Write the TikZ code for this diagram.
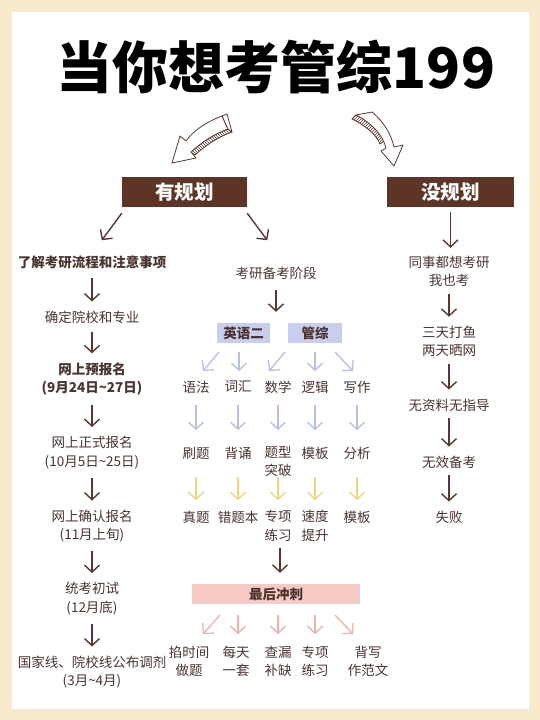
\documentclass[tikz,border=0pt]{standalone}
\usepackage{fontspec}
\setmainfont{Noto Sans CJK SC}
\usetikzlibrary{arrows.meta,calc,patterns}
\definecolor{bgc}{HTML}{F8EACB}
\definecolor{hdrc}{HTML}{5E3426}
\definecolor{txtc}{HTML}{4A3430}
\definecolor{arrc}{HTML}{5A3731}
\definecolor{lavc}{HTML}{C9CEEE}
\definecolor{bluc}{HTML}{B7BFE6}
\definecolor{yelc}{HTML}{EFD47E}
\definecolor{pinkc}{HTML}{F8CAC4}
\definecolor{pinka}{HTML}{EFB3AB}
\tikzset{
  lbl/.style={text=txtc, inner sep=0pt, align=center, font=\fontsize{13.5}{18.5}\selectfont},
  blbl/.style={lbl, font=\bfseries\fontsize{13.5}{18.5}\selectfont},
  hdr/.style={fill=hdrc, text=white, inner sep=0pt, minimum height=30pt, font=\bfseries\fontsize{19.5}{22}\selectfont},
  tagbox/.style={fill=lavc, text=txtc, inner sep=0pt, minimum width=54pt, minimum height=20pt, font=\bfseries\fontsize{13.5}{16}\selectfont},
  pinkbox/.style={fill=pinkc, text=txtc, inner sep=0pt, minimum width=168pt, minimum height=20pt, font=\bfseries\fontsize{13.5}{16}\selectfont},
  arr/.style={draw=arrc, line width=1.4pt, -{Straight Barb[length=7pt,width=15pt]}},
  barr/.style={arr, draw=bluc, line width=1.3pt},
  yarr/.style={arr, draw=yelc, line width=1.3pt},
  parr/.style={arr, draw=pinka, line width=1.3pt},
  lflow/.style={arr, shorten <=9pt, shorten >=9pt},
  rflow/.style={arr, shorten <=7pt, shorten >=9pt},
  sketch/.style={draw=arrc, line width=0.8pt, line join=round},
}
\begin{document}
\begin{tikzpicture}[x=1pt,y=-1pt]
\useasboundingbox (0,0) rectangle (540,720);
\fill[bgc] (0,0) rectangle (540,720);
\fill[white] (12,12) rectangle (529,709);

% title
\node[inner sep=0pt, text=black, font=\bfseries\fontsize{56}{60}\selectfont] (title) at (276,67) {当你想考管综199};

% sketchy arrows
\draw[sketch, pattern=north west lines, pattern color=arrc] (191,152) .. controls (202,142) and (214,134) .. (228,129) -- (232,132) .. controls (218,137) and (206,145) .. (195,155) -- cycle;
\filldraw[sketch, fill=white] (222,116) .. controls (206,122) and (193,131) .. (186,141) -- (180,136) -- (172,163) -- (196,158) -- (191,152) .. controls (202,142) and (214,134) .. (228,129) -- cycle;
\filldraw[sketch, fill=white] (222,116) -- (227,114) -- (232,132) -- (228,129) -- cycle;

\draw[sketch, pattern=north east lines, pattern color=arrc] (356,115) .. controls (373,124) and (382,134) .. (384,141) -- (380,144) .. controls (377,136) and (368,127) .. (352,119) -- cycle;
\filldraw[sketch, fill=white] (356,115) -- (372,112) .. controls (384,122) and (391,134) .. (394,147) -- (403,145) -- (394,166) -- (381,151) -- (386,148) .. controls (383,136) and (373,124) .. (356,115) -- cycle;

% headers
\node[hdr, minimum width=125pt] (plan) at (184.5,192) {有规划};
\node[hdr, minimum width=127pt] (noplan) at (450.5,192) {没规划};

% left column
\node[blbl] (l1) at (92,262) {了解考研流程和注意事项};
\node[lbl] (l2) at (92,317) {确定院校和专业};
\node[blbl] (l3) at (92,379) {网上预报名\\(9月24日\textasciitilde27日)};
\node[lbl] (l4) at (92,452.5) {网上正式报名\\(10月5日\textasciitilde25日)};
\node[lbl] (l5) at (92,526) {网上确认报名\\(11月上旬)};
\node[lbl] (l6) at (92,598.5) {统考初试\\(12月底)};
\node[lbl] (l7) at (92,672) {国家线、院校线公布调剂\\(3月\textasciitilde4月)};
\draw[arr] ($(plan.south west)+(0,6)$) -- ($(plan.south west)+(-20,33)$);
\draw[lflow] (l1) -- (l2);
\draw[lflow] (l2) -- (l3);
\draw[lflow] (l3) -- (l4);
\draw[lflow] (l4) -- (l5);
\draw[lflow] (l5) -- (l6);
\draw[lflow] (l6) -- (l7);

% middle column
\node[lbl] (stage) at (276,273) {考研备考阶段};
\draw[arr] ($(plan.south east)+(0,6)$) -- ($(plan.south east)+(20,33)$);
\node[tagbox, minimum width=53pt] (eng) at (243.5,333) {英语二};
\node[tagbox] (mgmt) at (315,333) {管综};
\draw[arr, shorten <=10.5pt, shorten >=11pt] (stage) -- (stage |- eng.north);

\coordinate (b1s) at (0,352);
\coordinate (b1e) at (0,371);
\coordinate (b2s) at (0,405);
\coordinate (b2e) at (0,430);
\coordinate (y1s) at (0,477);
\coordinate (y1e) at (0,500);
\coordinate (p1s) at (0,615);
\coordinate (p1e) at (0,634);

\node[lbl] (yufa) at (196,387) {语法};
\node[lbl] (cihui) at (238,387) {词汇};
\node[lbl] (shuxue) at (278,387) {数学};
\node[lbl] (luoji) at (315,387) {逻辑};
\node[lbl] (xiezuo) at (357,387) {写作};

\draw[barr] ($(yufa |- b1s)+(23,0)$) -- ($(yufa |- b1e)+(7,0)$);
\draw[barr] ($(cihui |- b1s)+(1,0)$) -- ($(cihui |- b1e)+(1,0)$);
\draw[barr] ($(shuxue |- b1s)+(7,0)$) -- ($(shuxue |- b1e)+(-9,0)$);
\draw[barr] (luoji |- b1s) -- (luoji |- b1e);
\draw[barr] ($(xiezuo |- b1s)+(-22,0)$) -- ($(xiezuo |- b1e)+(-4,0)$);

\node[lbl] (shuati) at (196,453) {刷题};
\node[lbl] (beisong) at (238,453) {背诵};
\node[lbl] (tixing) at (278,461.5) {题型\\突破};
\node[lbl] (muban) at (315,453) {模板};
\node[lbl] (fenxi) at (357,453) {分析};

\foreach \n in {yufa,cihui,shuxue,luoji,xiezuo}
  \draw[barr] (\n |- b2s) -- (\n |- b2e);

\node[lbl] (zhenti) at (196,517) {真题};
\node[lbl] (cuoti) at (238,517) {错题本};
\node[lbl] (zhuanx) at (278,526) {专项\\练习};
\node[lbl] (sudu) at (315,526) {速度\\提升};
\node[lbl] (muban2) at (357,517) {模板};

\foreach \n in {shuati,beisong,tixing,muban,fenxi}
  \draw[yarr] (\n |- y1s) -- (\n |- y1e);

\node[pinkbox] (final) at (276,594) {最后冲刺};
\draw[arr, shorten <=6pt, shorten >=11pt] ($(zhuanx.south)+(2,0)$) -- ($(zhuanx |- final.north)+(2,0)$);

\node[lbl] (qia) at (189,661.5) {掐时间\\做题};
\node[lbl] (meitian) at (236,661.5) {每天\\一套};
\node[lbl] (chalou) at (278,661.5) {查漏\\补缺};
\node[lbl] (zhuanx2) at (315,661.5) {专项\\练习};
\node[lbl] (beixie) at (368,661.5) {背写\\作范文};

\draw[parr] ($(qia |- p1s)+(31,0)$) -- ($(qia |- p1e)+(14,0)$);
\draw[parr] ($(meitian |- p1s)+(2,0)$) -- ($(meitian |- p1e)+(2,0)$);
\draw[parr] (chalou |- p1s) -- (chalou |- p1e);
\draw[parr] (zhuanx2 |- p1s) -- (zhuanx2 |- p1e);
\draw[parr] ($(beixie |- p1s)+(-33,0)$) -- ($(beixie |- p1e)+(-15,0)$);

% right column
\node[lbl] (r1) at (449,271.5) {同事都想考研\\我也考};
\node[lbl] (r2) at (449,341.5) {三天打鱼\\两天晒网};
\node[lbl] (r3) at (449,405) {无资料无指导};
\node[lbl] (r4) at (449,462) {无效备考};
\node[lbl] (r5) at (449,517) {失败};
\draw[arr, shorten <=5pt, shorten >=8pt] (noplan.south) -- (noplan.south |- r1.north);
\draw[rflow] (r1) -- (r2);
\draw[rflow] (r2) -- (r3);
\draw[rflow] (r3) -- (r4);
\draw[rflow] (r4) -- (r5);
\end{tikzpicture}
\end{document}
